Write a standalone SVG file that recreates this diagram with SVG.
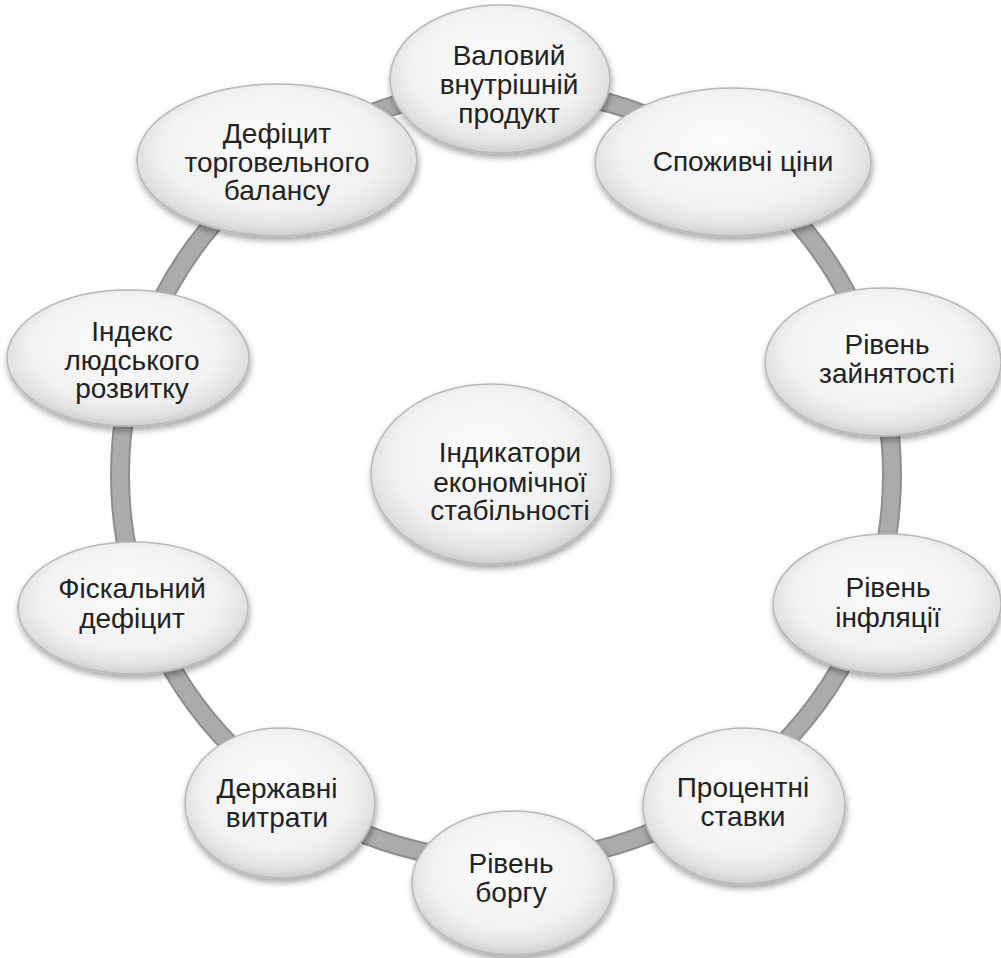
<svg xmlns="http://www.w3.org/2000/svg" width="1001" height="958" viewBox="0 0 1001 958">
<defs>
<radialGradient id="g" cx="50%" cy="45%" r="55%" fx="45%" fy="35%">
<stop offset="0" stop-color="#fdfdfd"/>
<stop offset="0.72" stop-color="#f1f1f1"/>
<stop offset="0.9" stop-color="#e2e2e2"/>
<stop offset="1" stop-color="#cdcdcd"/>
</radialGradient>
<filter id="sh" x="-20%" y="-20%" width="140%" height="150%">
<feDropShadow dx="1" dy="4" stdDeviation="3" flood-color="#000" flood-opacity="0.35"/>
</filter>
</defs>
<style>
.n ellipse{fill:url(#g);stroke:#b8b8b8;stroke-width:1.5;filter:url(#sh)}
.n text{font-family:"Liberation Sans",Arial,sans-serif;font-size:28px;fill:#222;text-anchor:middle}
</style>
<rect width="1001" height="958" fill="#fff"/>
<g id="connectors">
<circle cx="506" cy="475" r="386" fill="none" stroke="#8e8e8e" stroke-width="20"/>
<circle cx="506" cy="475" r="386" fill="none" stroke="#ababab" stroke-width="16"/>
</g>
<g id="n1" class="n"><ellipse cx="500" cy="79" rx="110" ry="74"/><text x="509"><tspan x="509" y="65">Валовий</tspan><tspan x="509" y="94">внутрішній</tspan><tspan x="509" y="123">продукт</tspan></text></g>
<g id="n2" class="n"><ellipse cx="733" cy="162" rx="138" ry="74"/><text x="743" y="171">Споживчі ціни</text></g>
<g id="n3" class="n"><ellipse cx="883" cy="362" rx="118" ry="74"/><text><tspan x="887" y="354">Рівень</tspan><tspan x="887" y="383">зайнятості</tspan></text></g>
<g id="n4" class="n"><ellipse cx="887" cy="604" rx="114" ry="70"/><text><tspan x="888" y="597">Рівень</tspan><tspan x="888" y="627">інфляції</tspan></text></g>
<g id="n5" class="n"><ellipse cx="744" cy="806" rx="101" ry="78"/><text><tspan x="743" y="797">Процентні</tspan><tspan x="743" y="826">ставки</tspan></text></g>
<g id="n6" class="n"><ellipse cx="513" cy="883" rx="101" ry="72"/><text><tspan x="511" y="873">Рівень</tspan><tspan x="511" y="902">боргу</tspan></text></g>
<g id="n7" class="n"><ellipse cx="280" cy="803" rx="95" ry="75"/><text><tspan x="277" y="798">Державні</tspan><tspan x="277" y="827">витрати</tspan></text></g>
<g id="n8" class="n"><ellipse cx="133" cy="608" rx="115" ry="66"/><text><tspan x="132" y="598">Фіскальний</tspan><tspan x="132" y="628">дефіцит</tspan></text></g>
<g id="n9" class="n"><ellipse cx="128" cy="358" rx="121" ry="68"/><text><tspan x="132" y="341">Індекс</tspan><tspan x="132" y="370">людського</tspan><tspan x="132" y="398">розвитку</tspan></text></g>
<g id="n10" class="n"><ellipse cx="277" cy="160" rx="140" ry="76"/><text><tspan x="277" y="143">Дефіцит</tspan><tspan x="277" y="172">торговельного</tspan><tspan x="277" y="200">балансу</tspan></text></g>
<g id="center" class="n"><ellipse cx="491" cy="474" rx="120" ry="90"/><text><tspan x="510" y="462">Індикатори</tspan><tspan x="510" y="492">економічної</tspan><tspan x="510" y="520">стабільності</tspan></text></g>
</svg>
